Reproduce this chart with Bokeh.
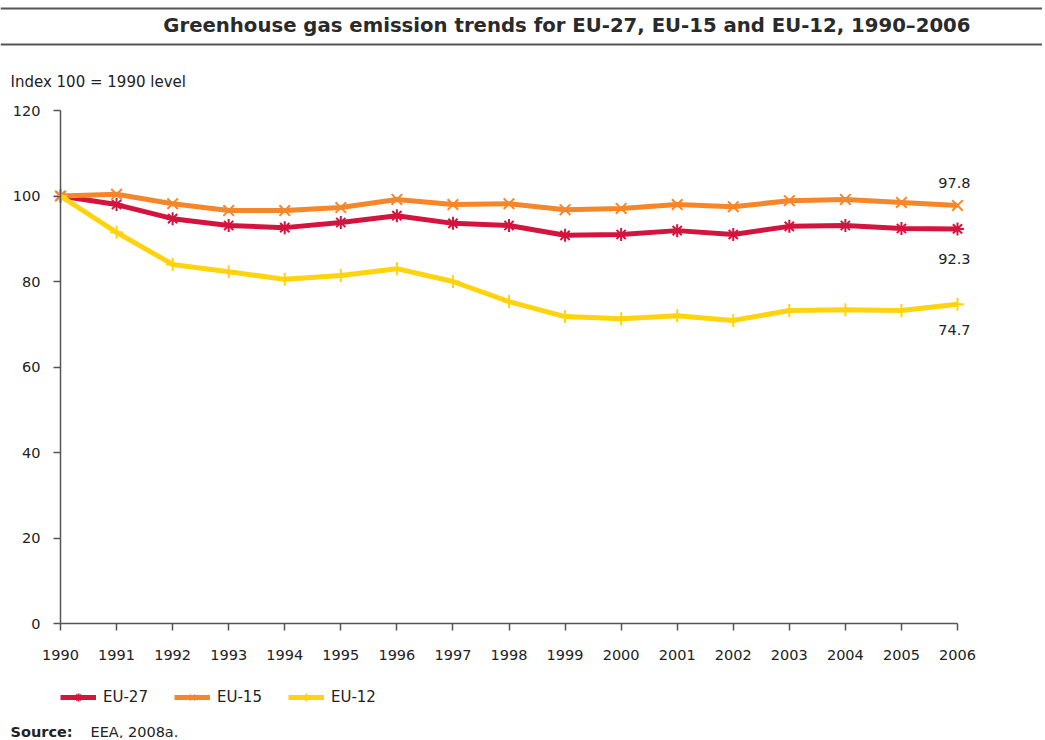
from bokeh.plotting import figure
from bokeh.models import (Range1d, Label, Legend, LegendItem, FixedTicker,
                          BoxAnnotation)
from bokeh.embed import file_html
from bokeh.resources import INLINE

years = list(range(1990, 2007))
eu27 = [100.0, 98.0, 94.7, 93.1, 92.6, 93.8, 95.4, 93.6, 93.1, 90.8, 91.0,
        91.9, 91.0, 92.9, 93.1, 92.4, 92.3]
eu15 = [100.0, 100.4, 98.2, 96.6, 96.6, 97.3, 99.2, 98.0, 98.2, 96.8, 97.1,
        98.0, 97.5, 98.9, 99.2, 98.5, 97.8]
eu12 = [100.0, 91.5, 84.0, 82.3, 80.5, 81.4, 83.0, 80.0, 75.3, 71.8, 71.3,
        72.0, 70.9, 73.2, 73.4, 73.2, 74.7]
series_names = ["EU-27", "EU-15", "EU-12"]
y_ticks = [0, 20, 40, 60, 80, 100, 120]
title_text = "Greenhouse gas emission trends for EU-27, EU-15 and EU-12, 1990\u20132006"
unit_text = "Index 100 = 1990 level"

W, H = 1042, 738
FONT = "DejaVu Sans"

# plot area in canvas pixels (from top-left)
X0, X1 = 60, 957     # 1990 .. 2006
Y0, Y1 = 623, 110    # 0 .. 120
xmin, xmax = years[0], years[-1]
ymin, ymax = y_ticks[0], y_ticks[-1]
sx = (X1 - X0) / (xmax - xmin)
sy = (Y0 - Y1) / (ymax - ymin)

p = figure(width=W, height=H, output_backend="svg", toolbar_location=None,
           x_range=Range1d(xmin - X0 / sx, xmax + (W - X1) / sx),
           y_range=Range1d(ymin - (H - Y0) / sy, ymax + Y1 / sy),
           min_border=0)
p.outline_line_color = None
p.grid.grid_line_color = None
p.background_fill_color = "white"
p.border_fill_color = "white"

p.xaxis.fixed_location = ymin
p.yaxis.fixed_location = xmin
p.xaxis.bounds = (xmin, xmax)
p.yaxis.bounds = (ymin, ymax)

for ax in (p.xaxis[0], p.yaxis[0]):
    ax.axis_line_color = "#555555"
    ax.axis_line_width = 1.5
    ax.major_tick_line_color = "#555555"
    ax.major_tick_line_width = 1.5
    ax.major_tick_in = 0
    ax.major_tick_out = 7
    ax.minor_tick_line_color = None
    ax.major_label_text_font = FONT
    ax.major_label_text_font_size = "14.5px"
    ax.major_label_text_color = "#222222"

p.xaxis.ticker = FixedTicker(ticks=years)
p.xaxis.major_label_standoff = 19
p.yaxis.ticker = FixedTicker(ticks=y_ticks)
p.yaxis.major_label_standoff = 13

colors = ["#D2143F", "#F5862A", "#FFD30D"]
markers = ["asterisk", "x", "cross"]
sizes = [13, 15, 13]
data = [eu27, eu15, eu12]
items = []
for name, vals, c, m, s in zip(series_names, data, colors, markers, sizes):
    r1 = p.line(years, vals, line_color=c, line_width=5)
    r2 = p.scatter(years, vals, marker=m, size=s, line_color=c, line_width=2)
    items.append(LegendItem(label=name, renderers=[r1, r2]))

def cy(page_y):
    return H - page_y

legend = Legend(items=items, orientation="horizontal",
                location=(60, cy(707)),
                padding=0, margin=0, spacing=26, glyph_width=36,
                glyph_height=20, label_height=20, label_standoff=7,
                label_text_font=FONT, label_text_font_size="15px",
                label_text_color="#222222",
                border_line_color=None, background_fill_alpha=0)
p.add_layout(legend, "center")

# end value labels
offsets = [-30, 22, -26]
for vals, off in zip(data, offsets):
    p.add_layout(Label(x=years[-1], y=vals[-1], text=f"{vals[-1]:.1f}",
                       x_offset=13, y_offset=off, text_align="right",
                       text_baseline="middle", text_font=FONT,
                       text_font_size="14.5px", text_color="#222222"))

# rules
for py in (8, 44):
    p.add_layout(BoxAnnotation(left=0, right=W, top=cy(py - 1), bottom=cy(py + 1),
                               left_units="screen", right_units="screen",
                               top_units="screen", bottom_units="screen",
                               fill_color="#555555", fill_alpha=1,
                               line_color=None))

p.add_layout(Label(x=970, y=cy(25), x_units="screen", y_units="screen",
                   text=title_text, text_align="right", text_baseline="middle",
                   text_font=FONT, text_font_style="bold",
                   text_font_size="19.7px", text_color="#2a2a2a"))
p.add_layout(Label(x=10, y=cy(81), x_units="screen", y_units="screen",
                   text=unit_text, text_align="left", text_baseline="middle",
                   text_font=FONT, text_font_size="15px", text_color="#222222"))
p.add_layout(Label(x=10, y=cy(731), x_units="screen", y_units="screen",
                   text="Source:", text_align="left", text_baseline="middle",
                   text_font=FONT, text_font_style="bold",
                   text_font_size="14.5px", text_color="#222222"))
p.add_layout(Label(x=90, y=cy(731), x_units="screen", y_units="screen",
                   text="EEA, 2008a.", text_align="left", text_baseline="middle",
                   text_font=FONT, text_font_size="14.5px", text_color="#222222"))

open("out.html", "w").write(file_html(p, INLINE))
